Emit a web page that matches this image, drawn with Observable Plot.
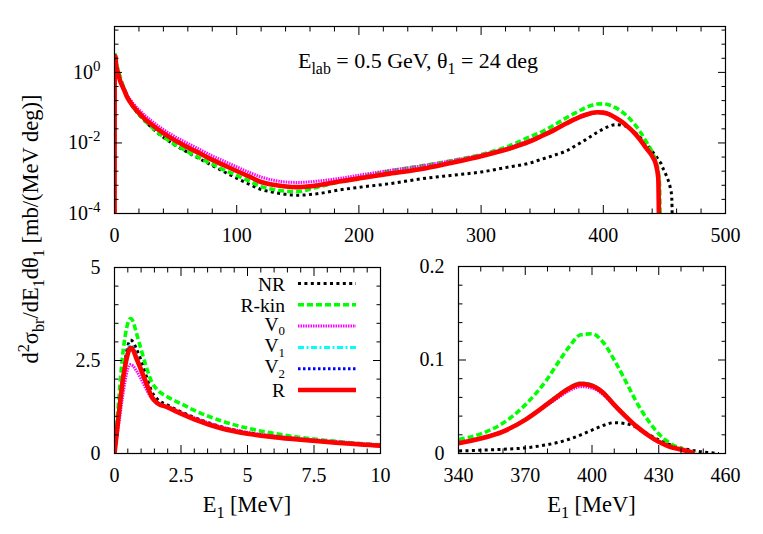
<!DOCTYPE html>
<html><head><meta charset="utf-8">
<script src="https://cdn.jsdelivr.net/npm/d3@7"></script>
<script src="https://cdn.jsdelivr.net/npm/@observablehq/plot@0.6"></script>
<style>
body{margin:0;background:#fff;}
#wrap{position:relative;width:763px;height:534px;overflow:hidden;font-family:'Liberation Serif',serif;}
#wrap svg{position:absolute;}
#wrap svg, #wrap svg text, #wrap svg tspan{font-family:'Liberation Serif',serif !important;}
text{white-space:pre;}
</style></head><body><div id="wrap"></div>
<script>
// Energy grid E1 [MeV]
const E = [0,0.1,0.2,0.3,0.4,0.5,0.6,0.7,0.8,
  1,1.2,1.4,1.6,2,2.5,3,
  4,5,6,7,8,10,12,15,
  20,25,30,40,50,60,70,80,90,100,
  110,120,130,140,150,165,185,205,225,250,
  275,300,320,340,350,360,370,380,385,390,
  395,400,405,410,415,420,425,430,435,440,
  443,445,446,447,448,450,452,454,455,456,457];

const NR = [0,0.7,1.4,2.0,2.5,2.88,3.05,3.0,2.85,
  2.5,2.07,1.67,1.47,1.3,1.12,0.97,
  0.72,0.56,0.46,0.38,0.32,0.215,0.155,0.105,
  0.063,0.041,0.028,0.0145,0.0085,0.0054,0.0035,0.0023,0.0015,0.001,
  0.00068,0.00048,0.0004,0.00035,0.00033,0.00036,0.00047,0.00058,0.0007,0.00095,
  0.0012,0.0015,0.002,0.0027,0.0035,0.0045,0.006,0.0095,0.012,0.0155,
  0.02,0.025,0.03,0.033,0.032,0.028,0.021,0.0145,0.0095,0.0058,
  0.0043,0.0034,0.003,0.0027,0.0022,0.0016,0.0011,0.0007,0.0005,0.0003,0];

const RKIN = [0,0.9,1.8,2.6,3.15,3.5,3.63,3.55,3.3,
  2.8,2.32,1.92,1.72,1.52,1.34,1.16,
  0.88,0.68,0.54,0.43,0.35,0.23,0.165,0.11,
  0.065,0.042,0.029,0.015,0.0088,0.0056,0.0037,0.0025,0.0017,0.0012,
  0.00084,0.00058,0.00048,0.00043,0.00042,0.00055,0.0008,0.00115,0.0016,0.0022,
  0.0031,0.0047,0.0075,0.015,0.021,0.0325,0.052,0.08,0.098,0.115,
  0.127,0.128,0.119,0.1,0.078,0.055,0.036,0.021,0.011,0.0055,
  0.003,0.0015,0.0007,0,null,null,null,null,null,null,null];

const V0 = [0,0.5,1.0,1.5,1.95,2.28,2.39,2.35,2.25,
  2.0,1.72,1.48,1.37,1.26,1.1,0.96,
  0.72,0.57,0.47,0.4,0.34,0.235,0.185,0.135,
  0.088,0.06,0.043,0.024,0.0148,0.0097,0.0065,0.0043,0.003,0.0021,
  0.00148,0.00108,0.00088,0.00078,0.00076,0.00082,0.001,0.0013,0.00166,0.0022,
  0.0031,0.0046,0.0069,0.012,0.0168,0.0242,0.036,0.052,0.06,0.0675,
  0.0715,0.070,0.063,0.051,0.039,0.028,0.0195,0.012,0.007,0.0041,
  0.0024,0.001,0,null,null,null,null,null,null,null,null];

const V1 = [0,0.67,1.34,1.95,2.42,2.76,2.92,2.85,2.66,
  2.28,1.9,1.53,1.36,1.24,1.07,0.92,
  0.68,0.53,0.44,0.37,0.31,0.21,0.16,0.114,
  0.072,0.048,0.035,0.0195,0.0118,0.0077,0.0051,0.0034,0.0024,0.00165,
  0.00116,0.0008,0.00067,0.0006,0.00058,0.00064,0.00084,0.00108,0.00138,0.00185,
  0.0028,0.0043,0.0066,0.0113,0.0164,0.024,0.0368,0.054,0.0632,0.0712,
  0.0758,0.0737,0.066,0.0528,0.0405,0.0294,0.0203,0.0127,0.0073,0.0043,
  0.0025,0.001,0,null,null,null,null,null,null,null,null];

const V2 = [0,0.66,1.32,1.93,2.4,2.73,2.88,2.82,2.63,
  2.27,1.89,1.52,1.36,1.24,1.07,0.92,
  0.68,0.53,0.44,0.37,0.31,0.21,0.16,0.113,
  0.0715,0.0475,0.0345,0.0192,0.0116,0.0076,0.005,0.0033,0.0023,0.0016,
  0.00114,0.00079,0.00066,0.00059,0.00057,0.00063,0.00083,0.00106,0.00136,0.00182,
  0.0027,0.0042,0.0065,0.0111,0.0162,0.0237,0.0363,0.0534,0.0625,0.0705,
  0.075,0.073,0.0655,0.0523,0.0402,0.0292,0.0201,0.0126,0.0072,0.0042,
  0.0025,0.001,0,null,null,null,null,null,null,null,null];

const R = [0,0.65,1.3,1.9,2.35,2.68,2.84,2.78,2.6,
  2.25,1.88,1.52,1.36,1.24,1.07,0.92,
  0.68,0.53,0.44,0.37,0.31,0.21,0.16,0.113,
  0.071,0.047,0.034,0.019,0.0115,0.0075,0.005,0.0033,0.0023,0.0016,
  0.00113,0.00078,0.00065,0.00058,0.00056,0.00062,0.00082,0.00105,0.00135,0.0018,
  0.0027,0.0042,0.0064,0.011,0.016,0.0235,0.036,0.053,0.062,0.070,
  0.0745,0.0725,0.065,0.052,0.040,0.029,0.020,0.0125,0.0072,0.0042,
  0.0025,0.001,0,null,null,null,null,null,null,null,null];

const seriesNames = ["NR","R-kin","V0","V1","V2","R"];
const seriesColors = ["#000000","#00ff00","#ff00ff","#00ffff","#0000ff","#ff0000"];

// tick values
const topXMajor = [0,100,200,300,400,500];
const topYMajor = [1e-4,1e-2,1];
const blXMajor = [0,2.5,5,7.5,10];
const blXLabels = ["0","2.5","5","7.5","10"];
const blYMajor = [0,2.5,5];
const blYLabels = ["0","2.5","5"];
const brXMajor = [340,370,400,430,460];
const brYMajor = [0,0.1,0.2];
const brYLabels = ["0","0.1","0.2"];

const FONT = "'Liberation Serif',serif";

const styles = {
  "NR":    {width:3,   dash:"3,3.4"},
  "R-kin": {width:3.6, dash:"6,3"},
  "V0":    {width:3,   dash:"1.5,1"},
  "V1":    {width:3,   dash:"6,2.5,2,2.5"},
  "V2":    {width:3,   dash:"2.5,2.5"},
  "R":     {width:4.6, dash:null}
};
const seriesValues = [NR,RKIN,V0,V1,V2,R];
const series = seriesNames.map((n,i)=>({name:n,color:seriesColors[i],values:seriesValues[i],...styles[n]}));

function range(a,b,s){const r=[];for(let v=a;v<=b+1e-9;v+=s)r.push(+v.toFixed(6));return r;}
function minor(all, major){return all.filter(v=>!major.some(m=>Math.abs(m-v)<1e-9*Math.max(1,Math.abs(m))));}

function makePanel(cfg){
  const marks=[];
  for(const s of series){
    const rows=E.map((e,i)=>({E:e,v:s.values[i]})).filter(d=>d.v!==null && d.E>=cfg.xKeep[0] && d.E<=cfg.xKeep[1]);
    marks.push(Plot.line(rows,{x:"E",y:cfg.log?(d=>d.v>0?d.v:1e-6):"v",stroke:s.color,strokeWidth:s.width,
      strokeDasharray:s.dash||undefined,strokeLinecap:"butt",strokeLinejoin:"round",curve:"monotone-x",clip:true}));
  }
  marks.push(Plot.frame({stroke:"#000",strokeWidth:1.2}));
  const blank=()=>"";
  for(const a of ["bottom","top"]){
    marks.push(Plot.axisX({ticks:cfg.xMajor,anchor:a,tickSize:-8,tickFormat:blank,label:null}));
    marks.push(Plot.axisX({ticks:cfg.xMinor,anchor:a,tickSize:-4.5,tickFormat:blank,label:null}));
  }
  for(const a of ["left","right"]){
    marks.push(Plot.axisY({ticks:cfg.yMajor,anchor:a,tickSize:-8,tickFormat:blank,label:null}));
    marks.push(Plot.axisY({ticks:cfg.yMinor,anchor:a,tickSize:-4.5,tickFormat:blank,label:null}));
  }
  marks.push(Plot.axisX({ticks:cfg.xMajor,anchor:"bottom",tickSize:0,tickPadding:14,tickFormat:cfg.xFmt,label:null,fontSize:20,fontFamily:FONT}));
  marks.push(Plot.axisY({ticks:cfg.yMajor,anchor:"left",tickSize:0,tickPadding:14,tickFormat:cfg.yFmt,label:null,fontSize:20,fontFamily:FONT}));
  const svg=Plot.plot({
    width:cfg.width,height:cfg.height,
    marginLeft:cfg.m[0],marginRight:cfg.m[1],marginTop:cfg.m[2],marginBottom:cfg.m[3],
    x:{domain:cfg.xDomain,label:null},
    y:{domain:cfg.yDomain,type:cfg.log?"log":"linear",label:null},
    style:{fontFamily:FONT,fontSize:"20px",background:"transparent",overflow:"visible",color:"#000"},
    marks
  });
  svg.style.position="absolute";svg.style.left=cfg.left+"px";svg.style.top=cfg.top+"px";
  return svg;
}

const wrap=document.getElementById("wrap");

// top panel (log)
const logAll=range(-4,1.2,0.4).map(k=>Math.pow(10,k));
const topSvg=makePanel({
  width:763,height:250,left:0,top:0,m:[114,38,26,37],
  xDomain:[0,500],yDomain:[1e-4,20],log:true,xKeep:[0,500],
  xMajor:topXMajor,xMinor:minor(range(0,500,20),topXMajor),
  yMajor:topYMajor,yMinor:logAll.filter(v=>!topYMajor.some(m=>Math.abs(Math.log10(m)-Math.log10(v))<1e-6)),
  xFmt:d=>String(d),yFmt:d=>"10^"+Math.round(Math.log10(d))
});
wrap.appendChild(topSvg);
topSvg.querySelectorAll("text").forEach(t=>{
  const s=t.textContent;
  if(s.startsWith("10^")){
    const ex=s.slice(3);
    t.textContent="";
    const ns="http://www.w3.org/2000/svg";
    const a=document.createElementNS(ns,"tspan");a.textContent="10";t.appendChild(a);
    const b=document.createElementNS(ns,"tspan");b.textContent=ex;b.setAttribute("dy","-8");b.setAttribute("font-size","15");t.appendChild(b);
  }
});

// bottom-left
wrap.appendChild(makePanel({
  width:400,height:294,left:0,top:240,m:[114,20,27,81],
  xDomain:[0,10],yDomain:[0,5],log:false,xKeep:[0,14],
  xMajor:blXMajor,xMinor:minor(range(0,10,0.5),blXMajor),
  yMajor:blYMajor,yMinor:minor(range(0,5,0.5),blYMajor),
  xFmt:d=>blXLabels[blXMajor.indexOf(d)],yFmt:d=>blYLabels[blYMajor.indexOf(d)]
}));

// bottom-right
wrap.appendChild(makePanel({
  width:383,height:294,left:380,top:240,m:[78,38,26,81],
  xDomain:[340,460],yDomain:[0,0.2],log:false,xKeep:[300,460],
  xMajor:brXMajor,xMinor:minor(range(340,460,10),brXMajor),
  yMajor:brYMajor,yMinor:minor(range(0,0.2,0.02),brYMajor),
  xFmt:d=>String(d),yFmt:d=>brYLabels[brYMajor.indexOf(d)]
}));

// overlay: labels, annotation, legend
const ov=d3.select(wrap).append("svg").attr("width",763).attr("height",534)
  .style("left","0px").style("top","0px")
  .style("font-family",FONT);

function rich(sel,parts,size,subScale=0.72,subOff=0.28){
  let cur=0;
  sel.style("font-family",FONT);
  for(const [t,type] of parts){
    const off=type==="sub"?size*subOff:type==="sup"?-size*0.42:0;
    const ts=sel.append("tspan").text(t).attr("dy",off-cur);
    if(type!=="n")ts.attr("font-size",size*subScale);
    cur=off;
  }
}

// annotation
rich(ov.append("text").attr("x",298).attr("y",68).attr("font-size",22),
  [["E","n"],["lab","sub"],[" = 0.5 GeV, θ","n"],["1","sub"],[" = 24 deg","n"]],22);

// y label
rich(ov.append("text").attr("transform","translate(38,229) rotate(-90)").attr("text-anchor","middle").attr("font-size",22.5),
  [["d","n"],["2","sup"],["σ","n"],["br","sub"],["/dE","n"],["1","sub"],["dθ","n"],["1","sub"],[" [mb/(MeV deg)]","n"]],22.5);

// x labels
for(const cx of [247,591.5]){
  rich(ov.append("text").attr("x",cx).attr("y",512).attr("text-anchor","middle").attr("font-size",22.5),
    [["E","n"],["1","sub"],[" [MeV]","n"]],22.5);
}

// legend
const legendLabels=[[["NR","n"]],[["R-kin","n"]],[["V","n"],["0","sub"]],[["V","n"],["1","sub"]],[["V","n"],["2","sub"]],[["R","n"]]];
series.forEach((s,i)=>{
  const y=283.5+i*21.3;
  const hasSub=legendLabels[i].length>1;
  rich(ov.append("text").attr("x",285).attr("y",y+(hasSub?4.5:7)).attr("text-anchor","end").attr("font-size",19.5),legendLabels[i],19.5,0.66,0.24);
  ov.append("line").attr("x1",298).attr("x2",356).attr("y1",y).attr("y2",y)
    .attr("stroke",s.color).attr("stroke-width",s.width).attr("stroke-dasharray",s.dash||null);
});
</script></body></html>
